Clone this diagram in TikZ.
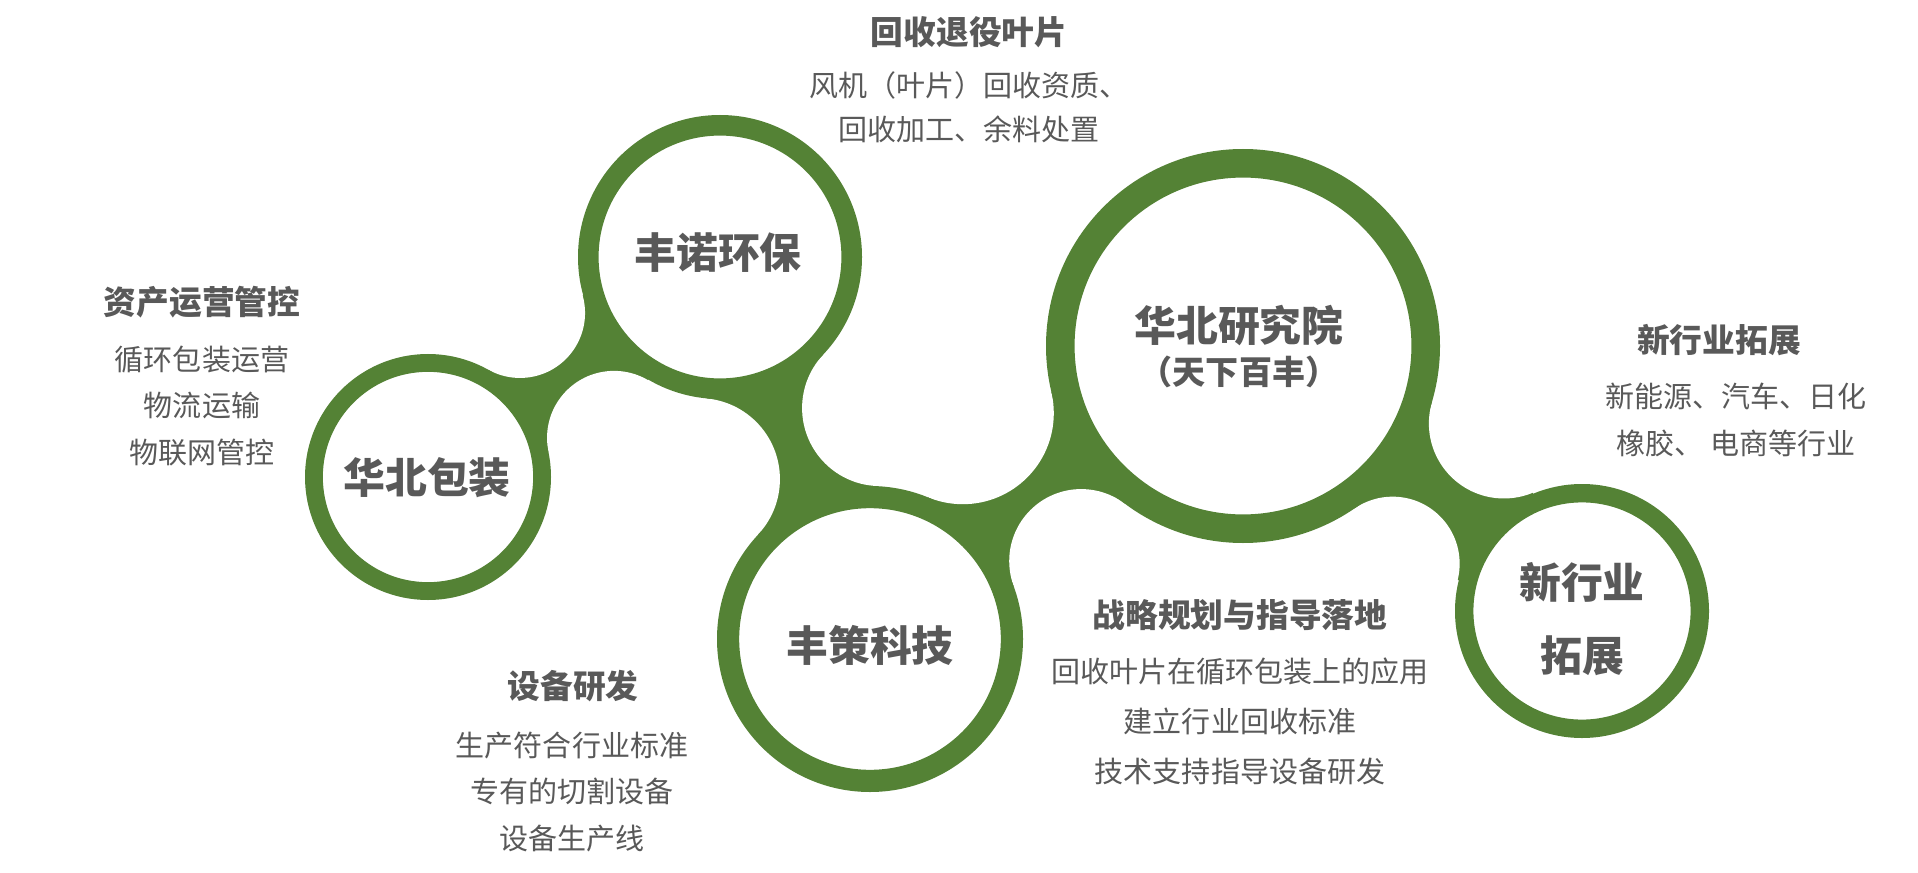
\documentclass[tikz,border=0pt]{standalone}
\usepackage{fontspec}
\setmainfont{Noto Sans CJK SC}
\usetikzlibrary{backgrounds,calc}
\definecolor{ringgreen}{HTML}{548235}
\definecolor{textgray}{HTML}{595959}

\tikzset{
  ring/.style={circle, draw=ringgreen, fill=white, inner sep=0pt,
    minimum size={1.855*#1*0.01cm}, line width={0.145*#1*0.01cm}},
  circletitle/.style={text=textgray, inner sep=0pt, font=\bfseries\fontsize{11.9pt}{14pt}\selectfont},
  blocktitle/.style={text=textgray, inner sep=0pt, font=\bfseries\fontsize{9.3pt}{12pt}\selectfont},
  blocktext/.style={text=textgray, inner sep=0pt, align=center, font=\fontsize{8.25pt}{#1}\selectfont},
  blocktext/.default=13.1pt
}

\newcommand\bridge[6]{%
  \path let \p1=(#1.center), \p2=(#3.center),
      \n1={veclen(\x2-\x1,\y2-\y1)/28.4528},
      \n2={(#2+#5)/100}, \n3={(#4+#5)/100},
      \n4={(\n2*\n2-\n3*\n3+\n1*\n1)/(2*\n1)},
      \n5={sqrt(\n2*\n2-\n4*\n4)},
      \n6={(#2+#6)/100}, \n7={(#4+#6)/100},
      \n8={(\n6*\n6-\n7*\n7+\n1*\n1)/(2*\n1)},
      \n9={sqrt(\n6*\n6-\n8*\n8)}
    in coordinate (#1#3a) at ($(\p1)!{28.4528*\n4}!(\p2)!{28.4528*\n5}!90:(\p2)$)
       coordinate (#1#3b) at ($(\p1)!{28.4528*\n8}!(\p2)!{28.4528*\n9}!-90:(\p2)$);
  \fill[ringgreen] (#1.center) -- (#1#3a) -- (#3.center) -- (#1#3b) -- cycle;
  \fill[white] (#1#3a) circle (#5) (#1#3b) circle (#6);}

\begin{document}
\begin{tikzpicture}[x=0.01cm, y=-0.01cm]
    \useasboundingbox (0,0) rectangle (1918,873);

    \node[ring=123] (huabei) at (428,477) {};
    \node[ring=142] (fengnuo) at (720,257) {};
    \node[ring=153] (fengce) at (870,639) {};
    \node[ring=197] (yanjiu) at (1243,346) {};
    \node[ring=127] (xinhy) at (1582,611) {};

    \begin{scope}[on background layer]
    \fill[white] (0,0) rectangle (1918,873);
    \bridge{huabei}{123}{fengnuo}{142}{65}{67}
    \bridge{fengnuo}{142}{fengce}{153}{78}{81}
    \bridge{fengce}{153}{yanjiu}{197}{91}{72}
    \bridge{yanjiu}{197}{xinhy}{127}{75}{67}
    \end{scope}

    \node[circletitle] (huabeiT) at (427,478) {华北包装};
    \node[circletitle] (fengnuoT) at (718,253) {丰诺环保};
    \node[circletitle] (fengceT) at (870,645) {丰策科技};
    \node[circletitle] (yanjiuT) at (1239,326) {华北研究院};
    \node[circletitle, font=\bfseries\fontsize{9.4pt}{11pt}\selectfont] (yanjiuS) at (1239,372) {（天下百丰）};
    \node[circletitle] (xinhyT) at (1582,582) {新行业};
    \node[circletitle] (xinhyU) at (1582,656) {拓展};

    \node[blocktitle] (huishou) at (969,32) {回收退役叶片};
    \node[blocktext=12.5pt] (huishouT) at (969,107) {风机（叶片）回收资质、\\回收加工、余料处置};
    \node[blocktitle] (zichan) at (202,302) {资产运营管控};
    \node[blocktext] (zichanT) at (202,406) {循环包装运营\\物流运输\\物联网管控};
    \node[blocktitle] (tuozhan) at (1719,340) {新行业拓展};
    \node[blocktext] (tuozhanT) at (1736,420) {新能源、汽车、日化\\橡胶、 电商等行业};
    \node[blocktitle] (shebei) at (573,686) {设备研发};
    \node[blocktext] (shebeiT) at (572,792) {生产符合行业标准\\专有的切割设备\\设备生产线};
    \node[blocktitle] (zhanlue) at (1240,615) {战略规划与指导落地};
    \node[blocktext=14.2pt] (zhanlueT) at (1240,721) {回收叶片在循环包装上的应用\\建立行业回收标准\\技术支持指导设备研发};
\end{tikzpicture}
\end{document}
